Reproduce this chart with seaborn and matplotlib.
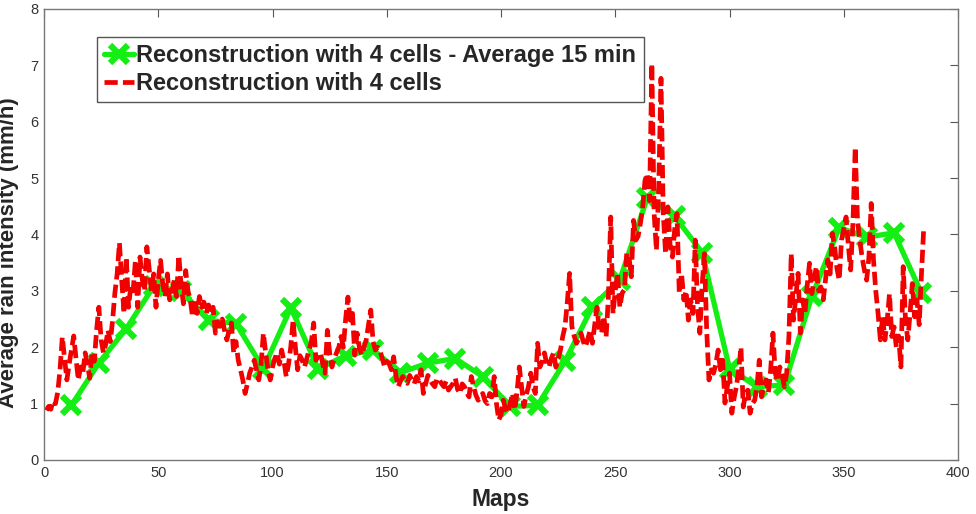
import numpy as np
import pandas as pd
import matplotlib
matplotlib.use("Agg")
import matplotlib.pyplot as plt
import seaborn as sns

# 15 min averages (one every 12 maps)
avg_maps = [12, 24, 36, 48, 60, 72, 84, 96, 108, 120, 132, 144, 156, 168, 180, 192,
            204, 216, 228, 240, 252, 264, 276, 288, 300, 312, 324, 336, 348, 360, 372, 384]
avg_rain = [0.97, 1.72, 2.33, 3.08, 3.0, 2.48, 2.42, 1.62, 2.7, 1.62, 1.85, 1.95, 1.55, 1.72, 1.8, 1.48,
            0.95, 0.97, 1.75, 2.72, 3.2, 4.65, 4.32, 3.68, 1.62, 1.3, 1.33, 2.9, 4.12, 3.95, 4.03, 2.96]

# reconstruction with 4 cells, maps 1..385
rain_4cells = [
    0.88, 0.95, 0.9, 1.05, 1.0, 1.2, 1.6, 2.18, 1.8, 1.42,
    1.7, 1.95, 2.2, 1.8, 1.42, 1.65, 1.55, 1.9, 1.7, 1.45,
    1.9, 1.75, 2.3, 2.71, 2.13, 1.9, 2.05, 2.3, 2.1, 2.47,
    2.96, 3.3, 3.85, 3.2, 2.6, 3.6, 2.71, 3.1, 3.0, 3.54,
    2.71, 3.6, 3.2, 3.0, 3.78, 3.4, 3.0, 3.3, 2.71, 3.2,
    3.54, 3.1, 2.9, 3.3, 2.84, 3.0, 3.19, 2.9, 3.63, 3.1,
    2.77, 3.36, 3.0, 2.84, 2.54, 2.84, 2.6, 2.9, 2.71, 2.8,
    2.6, 2.75, 2.6, 2.71, 2.25, 2.45, 2.37, 2.5, 2.3, 2.13,
    2.3, 2.43, 1.9, 2.1, 1.77, 1.6, 1.42, 1.18, 1.35, 1.54,
    1.65, 1.77, 1.6, 1.42, 1.7, 2.25, 1.9, 1.6, 1.42, 1.65,
    1.8, 1.9, 1.7, 1.95, 1.75, 1.48, 1.7, 2.01, 2.48, 2.0,
    1.6, 1.85, 1.77, 1.65, 1.8, 1.95, 2.1, 2.43, 1.77, 1.85,
    1.9, 1.7, 1.54, 2.3, 1.9, 1.65, 1.8, 1.9, 2.0, 2.19,
    2.0, 2.5, 2.89, 2.48, 2.6, 1.86, 2.25, 2.0, 1.86, 2.0,
    2.13, 2.4, 2.66, 2.1, 1.95, 2.0, 1.95, 1.8, 1.66, 1.75,
    1.71, 1.6, 1.83, 1.5, 1.3, 1.4, 1.48, 1.4, 1.36, 1.5,
    1.42, 1.35, 1.48, 1.4, 1.6, 1.18, 1.35, 1.5, 1.42, 1.35,
    1.3, 1.45, 1.42, 1.35, 1.3, 1.4, 1.24, 1.3, 1.36, 1.45,
    1.25, 1.18, 1.35, 1.3, 1.2, 1.12, 1.48, 1.3, 1.15, 1.06,
    1.12, 1.18, 1.05, 1.0, 1.18, 1.12, 1.48, 1.0, 0.71, 0.8,
    1.06, 0.9, 0.83, 1.0, 1.18, 0.89, 1.2, 1.65, 1.3, 0.95,
    1.15, 1.3, 1.54, 1.3, 1.18, 2.07, 1.65, 1.75, 1.9, 1.7,
    1.65, 1.8, 1.9, 1.65, 1.8, 1.95, 2.19, 2.37, 2.8, 3.31,
    2.37, 2.2, 2.07, 2.15, 2.25, 2.1, 2.01, 2.15, 2.3, 2.07,
    2.4, 2.71, 2.3, 2.25, 2.55, 2.19, 2.9, 4.31, 2.6, 3.01,
    3.31, 2.71, 2.96, 3.02, 3.67, 3.6, 3.25, 4.25, 3.9, 3.97,
    4.2, 4.49, 4.96, 5.08, 4.6, 7.03, 4.37, 3.72, 4.8, 6.77,
    4.37, 3.66, 4.49, 3.8, 3.6, 4.1, 4.37, 2.96, 3.31, 2.84,
    3.0, 2.48, 2.84, 2.6, 3.9, 2.72, 2.25, 3.1, 3.66, 2.3,
    1.42, 1.6, 1.54, 1.7, 1.95, 1.6, 1.77, 1.01, 1.3, 1.54,
    0.83, 1.1, 1.3, 1.6, 2.0, 0.94, 1.18, 1.24, 0.83, 1.0,
    1.06, 1.3, 1.77, 1.12, 1.3, 1.42, 1.2, 1.6, 2.25, 1.54,
    1.4, 1.65, 1.5, 1.3, 1.54, 2.2, 3.66, 2.48, 2.9, 3.31,
    2.25, 2.84, 2.6, 3.1, 3.49, 2.95, 3.2, 3.43, 3.0, 3.07,
    2.84, 3.2, 3.55, 3.3, 4.02, 3.78, 3.4, 3.19, 3.9, 4.1,
    4.31, 3.8, 3.37, 4.2, 5.55, 4.25, 3.9, 3.6, 3.37, 3.19,
    3.6, 4.55, 3.55, 3.0, 2.6, 2.13, 2.54, 2.13, 2.48, 2.95,
    2.19, 2.36, 2.0, 2.2, 1.65, 3.43, 2.48, 2.13, 2.6, 3.13,
    2.54, 2.84, 2.4, 3.3, 4.13,
]
maps = np.arange(1, len(rain_4cells) + 1)

sns.set_style("white")
plt.rcParams['font.family'] = ['Liberation Sans', 'DejaVu Sans']

fig = plt.figure(figsize=(9.76, 5.14), dpi=100)
ax = fig.add_axes([0.0451, 0.1051, 0.9365, 0.8774])

green = '#14ee14'
red = '#f20000'

sns.lineplot(x=avg_maps, y=avg_rain, ax=ax, color=green, linewidth=3.8,
             marker='x', markersize=13, markeredgewidth=4.5, markeredgecolor=green,
             label='Reconstruction with 4 cells - Average 15 min')
sns.lineplot(x=maps, y=rain_4cells, ax=ax, color=red, linewidth=3.4,
             linestyle=(0, (2.8, 1.1)),
             label='Reconstruction with 4 cells')

ax.set_xlim(0, 400)
ax.set_ylim(0, 8)
ax.set_xticks(np.arange(0, 401, 50))
ax.set_yticks(np.arange(0, 9, 1))
ax.tick_params(direction='in', top=True, right=True, length=6, width=0.8,
               color='#555555', labelcolor='#333333', labelsize=10.5, pad=4)
for s in ax.spines.values():
    s.set_color('#777777')
    s.set_linewidth(1.0)

ax.set_xlabel('Maps', fontsize=16.5, fontweight='bold', labelpad=6)
ax.set_ylabel('Average rain intensity (mm/h)', fontsize=16, fontweight='bold')
ax.yaxis.set_label_coords(-0.027, 0.46)

leg = ax.legend(loc='upper left', bbox_to_anchor=(0.058, 0.938), borderaxespad=0,
                fancybox=False, framealpha=1, edgecolor='#555555',
                prop={'size': 17, 'weight': 'bold'},
                handlelength=1.25, handletextpad=0.12, labelspacing=0.22,
                borderpad=0.3)
leg.get_frame().set_linewidth(1.0)

fig.savefig('out.png', dpi=100)
